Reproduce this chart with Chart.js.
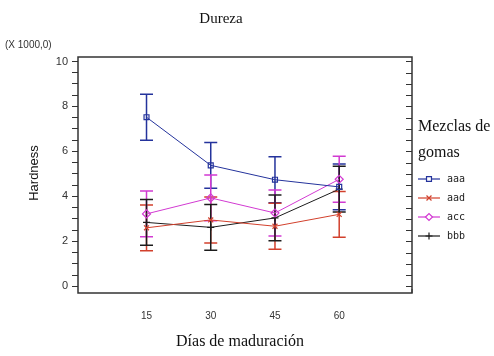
<!DOCTYPE html>
<html>
<head>
<meta charset="utf-8">
<script src="https://cdn.jsdelivr.net/npm/chart.js@4"></script>
<style>
  body { margin: 0; background: #fff; }
  #wrap { width: 494px; height: 356px; }
</style>
</head>
<body>
<div id="wrap"><canvas id="chart" width="494" height="356"></canvas></div>
<script>
// Data
const days = [15, 30, 45, 60];
const aaa = [7.52, 5.38, 4.74, 4.42];
const aad = [2.60, 2.95, 2.67, 3.20];
const acc = [3.22, 3.93, 3.26, 4.76];
const bbb = [2.84, 2.62, 3.04, 4.32];
const errHalf = [1.02, 1.02, 1.02, 1.02]; // interval half-width per series
const seriesNames = ['aaa', 'aad', 'acc', 'bbb'];
const yTicks = [0, 2, 4, 6, 8, 10];

const colors = ['#24339c', '#d2402c', '#d23ad2', '#1c1c1c'];
const styles = ['rect', 'crossRot', 'rectRot', 'cross'];

function makeSet(name, values, i) {
    return {
        label: name,
        data: values.map((v, k) => ({ x: days[k], y: v })),
        borderColor: colors[i],
        backgroundColor: 'rgba(0,0,0,0)',
        borderWidth: 1,
        pointStyle: styles[i],
        pointRadius: i === 2 ? 4 : 3.5,
        pointBorderWidth: 1.2,
        pointBorderColor: colors[i],
        tension: 0,
        fill: false
    };
}

// Error bars drawn through the chart's own scales
const errorBars = {
    id: 'errorBars',
    beforeDatasetsDraw(chart) {
        const ctx = chart.ctx;
        const xs = chart.scales.x, ys = chart.scales.y;
        ctx.save();
        chart.data.datasets.forEach((ds, i) => {
            ctx.strokeStyle = colors[i];
            ctx.lineWidth = 1.5;
            ds.data.forEach(p => {
                const px = xs.getPixelForValue(p.x);
                const top = ys.getPixelForValue(p.y + errHalf[i]);
                const bot = ys.getPixelForValue(p.y - errHalf[i]);
                ctx.beginPath();
                ctx.moveTo(px, top); ctx.lineTo(px, bot);
                ctx.moveTo(px - 6.5, top); ctx.lineTo(px + 6.5, top);
                ctx.moveTo(px - 6.5, bot); ctx.lineTo(px + 6.5, bot);
                ctx.stroke();
            });
        });
        ctx.restore();
    }
};

// Frame, right-hand ticks, texts and legend
const decorations = {
    id: 'decorations',
    afterDraw(chart) {
        const ctx = chart.ctx;
        const a = chart.chartArea;
        const ys = chart.scales.y;
        ctx.save();
        ctx.strokeStyle = '#333';
        ctx.lineWidth = 1.5;
        ctx.strokeRect(a.left, a.top, a.right - a.left, a.bottom - a.top);

        // right axis ticks (pointing inwards)
        ctx.lineWidth = 1;
        ys.ticks.forEach(t => {
            const py = Math.round(ys.getPixelForValue(t.value)) + 0.5;
            ctx.beginPath();
            ctx.moveTo(a.right - 6, py); ctx.lineTo(a.right, py);
            ctx.stroke();
        });
        // small tick at right end of x axis
        ctx.beginPath();
        ctx.moveTo(a.right, a.bottom - 4); ctx.lineTo(a.right, a.bottom);
        ctx.stroke();

        ctx.fillStyle = '#111';
        ctx.textBaseline = 'middle';
        ctx.textAlign = 'center';
        ctx.font = '15px "Liberation Serif", serif';
        ctx.fillText('Dureza', 221, 19);
        ctx.font = '16px "Liberation Serif", serif';
        ctx.fillText('Días de maduración', 240, 342);

        ctx.font = '10px "Liberation Sans", Arial, sans-serif';
        ctx.fillStyle = '#333';
        ctx.textAlign = 'left';
        ctx.fillText('(X 1000,0)', 5, 45);

        ctx.save();
        ctx.translate(34, 173);
        ctx.rotate(-Math.PI / 2);
        ctx.textAlign = 'center';
        ctx.font = '13px "Liberation Sans", Arial, sans-serif';
        ctx.fillStyle = '#111';
        ctx.fillText('Hardness', 0, 0);
        ctx.restore();

        // legend
        ctx.textAlign = 'left';
        ctx.fillStyle = '#111';
        ctx.font = '16px "Liberation Serif", serif';
        ctx.fillText('Mezclas de', 418, 127);
        ctx.fillText('gomas', 418, 153);
        ctx.font = '10px "DejaVu Sans Mono", monospace';
        const rowY = [179, 198, 217, 236];
        chart.data.datasets.forEach((ds, i) => {
            const y = rowY[i];
            ctx.strokeStyle = colors[i];
            ctx.lineWidth = 1.2;
            ctx.beginPath();
            ctx.moveTo(418, y); ctx.lineTo(440, y);
            ctx.stroke();
            ctx.fillStyle = '#fff';
            Chart.helpers.drawPoint(ctx, {
                pointStyle: styles[i], radius: 3.5, borderWidth: 1.2, rotation: 0
            }, 429, y);
            ctx.fillStyle = '#222';
            ctx.fillText(ds.label, 447, y);
        });
        ctx.restore();
    }
};

new Chart(document.getElementById('chart'), {
    type: 'line',
    data: {
        datasets: [
            makeSet(seriesNames[0], aaa, 0),
            makeSet(seriesNames[1], aad, 1),
            makeSet(seriesNames[2], acc, 2),
            makeSet(seriesNames[3], bbb, 3)
        ]
    },
    options: {
        responsive: false,
        animation: false,
        layout: { padding: { top: 57, right: 82, left: 0, bottom: 0 } },
        plugins: {
            legend: { display: false },
            title: { display: false },
            tooltip: { enabled: false }
        },
        scales: {
            x: {
                type: 'linear',
                min: -1,
                max: 77,
                afterBuildTicks(scale) {
                    scale.ticks = days.map(v => ({ value: v }));
                },
                afterFit(scale) { scale.height = 63; },
                grid: { display: false },
                border: { display: false },
                ticks: {
                    color: '#333',
                    padding: 9,
                    font: { family: '"Liberation Sans", Arial, sans-serif', size: 10 }
                }
            },
            y: {
                type: 'linear',
                min: -0.3,
                max: 10.2,
                afterBuildTicks(scale) {
                    const t = [];
                    for (let v = 0; v <= 10; v += 0.5) t.push({ value: v });
                    scale.ticks = t;
                },
                afterFit(scale) { scale.width = 78; },
                grid: {
                    drawOnChartArea: false,
                    drawTicks: true,
                    tickLength: 6,
                    color: '#333'
                },
                border: { display: false },
                ticks: {
                    color: '#333',
                    padding: 4,
                    autoSkip: false,
                    font: { family: '"Liberation Sans", Arial, sans-serif', size: 11 },
                    callback: v => yTicks.includes(v) ? String(v) : ''
                }
            }
        }
    },
    plugins: [errorBars, decorations]
});
</script>
</body>
</html>
